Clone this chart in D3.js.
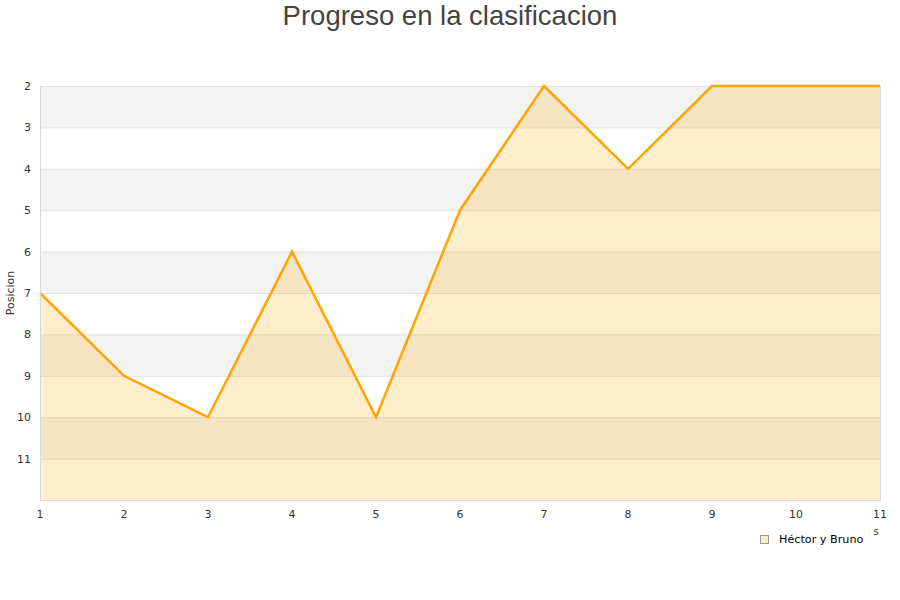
<!DOCTYPE html>
<html><head><meta charset="utf-8">
<script src="https://cdn.jsdelivr.net/npm/d3@7/dist/d3.min.js"></script>
<style>body{margin:0;background:#fff;font-family:"DejaVu Sans",sans-serif;}</style>
</head><body>
<svg id="c" width="900" height="600"></svg>
<script>
const jornadas = [1,2,3,4,5,6,7,8,9,10,11];
const posiciones = [7,9,10,6,10,5,2,4,2,2,2];
const yTicks = [2,3,4,5,6,7,8,9,10,11];
const seriesName = "Héctor y Bruno";
const titleText = "Progreso en la clasificacion";
const yTitle = "Posicion";

const svg = d3.select("#c");
const L=40,R=880,T=86,B=500;
const x = d3.scaleLinear().domain([1,11]).range([L,R]);
const y = d3.scaleLinear().domain([2,12]).range([T,B]);

const bands = d3.range(2,12,2);
svg.selectAll("rect.band").data(bands).enter().append("rect")
  .attr("x",L).attr("width",R-L).attr("y",d=>y(d)).attr("height",d=>y(d+1)-y(d))
  .attr("fill","#f3f3f3");
svg.selectAll("line.grid").data(d3.range(2,13)).enter().append("line")
  .attr("x1",L).attr("x2",R).attr("y1",d=>y(d)+0.5).attr("y2",d=>y(d)+0.5)
  .attr("stroke","#e0e0e0").attr("stroke-width",1);

const data = jornadas.map((j,i)=>({j,p:posiciones[i]}));
const area = d3.area().x(d=>x(d.j)).y0(y(12)).y1(d=>y(d.p));
const line = d3.line().x(d=>x(d.j)).y(d=>y(d.p));
svg.append("path").datum(data).attr("d",area).attr("fill","rgba(255,165,0,0.2)");
svg.append("path").datum(data).attr("d",line).attr("fill","none").attr("stroke","#ffa500").attr("stroke-width",2.5).attr("stroke-linejoin","miter");

svg.append("line").attr("x1",L+0.5).attr("x2",L+0.5).attr("y1",T).attr("y2",B).attr("stroke","#d8d8d8");
svg.append("line").attr("x1",R+0.5).attr("x2",R+0.5).attr("y1",T).attr("y2",B).attr("stroke","#d8d8d8");
svg.append("line").attr("x1",L).attr("x2",R+1).attr("y1",B+0.5).attr("y2",B+0.5).attr("stroke","#d8d8d8");

svg.selectAll("text.yl").data(yTicks).enter().append("text")
  .attr("x",31).attr("y",d=>y(d)+4).attr("text-anchor","end")
  .attr("font-size",11).attr("fill","#333").text(d=>d);
svg.selectAll("text.xl").data(jornadas).enter().append("text")
  .attr("x",d=>x(d)).attr("y",518).attr("text-anchor","middle")
  .attr("font-size",11).attr("fill","#333").text(d=>d);

svg.append("text").attr("transform","translate(14,293) rotate(-90)").attr("text-anchor","middle")
  .attr("font-size",11).attr("fill","#333").text(yTitle);
svg.append("text").attr("x",450).attr("y",25).attr("text-anchor","middle")
  .attr("font-size",27.5).attr("fill","#444").attr("font-family","Liberation Sans, Arial, sans-serif").text(titleText);

svg.append("text").attr("x",876).attr("y",535).attr("text-anchor","middle").attr("font-size",10).attr("fill","#333").text("s");

svg.append("rect").attr("x",760.5).attr("y",535.5).attr("width",8).attr("height",8)
  .attr("fill","#ffeccb").attr("stroke","#999").attr("stroke-width",1);
svg.append("text").attr("x",779).attr("y",543).attr("font-size",11.2).attr("fill","#000").text(seriesName);
</script>
</body></html>
